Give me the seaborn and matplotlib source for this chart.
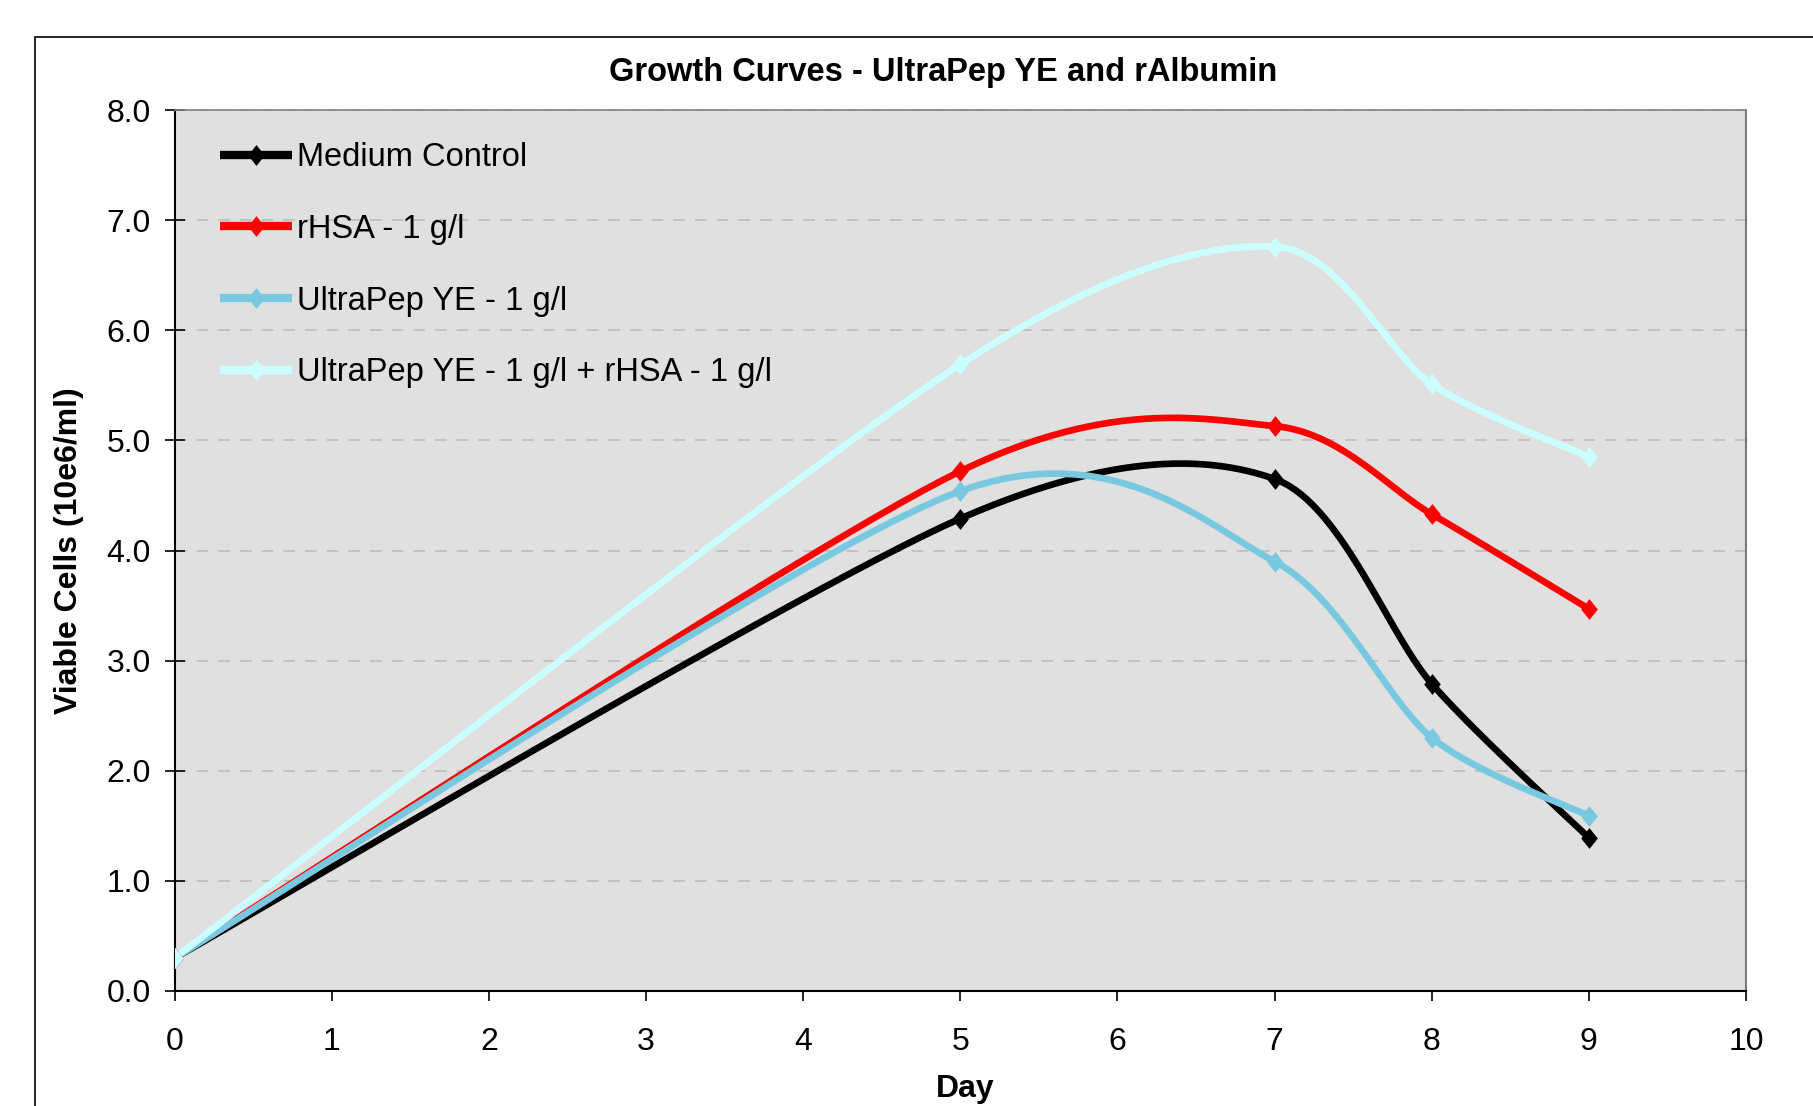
import numpy as np
import pandas as pd
import matplotlib
matplotlib.use("Agg")
import matplotlib.pyplot as plt
from matplotlib.lines import Line2D
from matplotlib.patches import Rectangle
import seaborn as sns

# ---- data ----
days = [0, 5, 7, 8, 9]
series_names = ["Medium Control", "rHSA - 1 g/l", "UltraPep YE - 1 g/l",
                "UltraPep YE - 1 g/l + rHSA - 1 g/l"]
medium_control = [0.30, 4.29, 4.65, 2.79, 1.39]
rhsa = [0.30, 4.72, 5.13, 4.33, 3.47]
ultrapep = [0.30, 4.54, 3.90, 2.30, 1.59]
ultrapep_rhsa = [0.30, 5.69, 6.76, 5.51, 4.85]
series_values = [medium_control, rhsa, ultrapep, ultrapep_rhsa]
series_colors = ["#000000", "#FF0000", "#78C8E0", "#CCFFFF"]
title = "Growth Curves - UltraPep YE and rAlbumin"
x_label = "Day"
y_label = "Viable Cells (10e6/ml)"
x_ticks = list(range(0, 11))
y_ticks = [0, 1, 2, 3, 4, 5, 6, 7, 8]

TENSION = 0.14


def smooth_curve(xs, ys, n=30):
    """Excel-style smoothed line (cardinal Bezier) through the points."""
    P = np.column_stack([xs, ys]).astype(float)
    out = [P[0]]
    for i in range(len(P) - 1):
        p0 = P[i - 1] if i > 0 else P[i]
        p1 = P[i]
        p2 = P[i + 1]
        p3 = P[i + 2] if i + 2 < len(P) else P[i + 1]
        c1 = p1 + (p2 - p0) * TENSION
        c2 = p2 - (p3 - p1) * TENSION
        t = np.linspace(0, 1, n)[1:, None]
        seg = ((1 - t) ** 3) * p1 + 3 * ((1 - t) ** 2) * t * c1 \
            + 3 * (1 - t) * t ** 2 * c2 + t ** 3 * p2
        out.extend(seg)
    out = np.array(out)
    return out[:, 0], out[:, 1]


sns.set_style("white")
plt.rcParams["font.family"] = ["Liberation Sans", "DejaVu Sans"]
plt.rcParams["text.color"] = "black"
plt.rcParams["axes.labelcolor"] = "black"

W, H = 1813, 1106
fig = plt.figure(figsize=(W / 100, H / 100), dpi=100)
ax = fig.add_axes([174.6 / W, 1 - 991 / H, (1746 - 174.6) / W, (991 - 110) / H])
ax.set_facecolor("#E0E0E0")

# outer chart frame (cut off at right and bottom)
fig.patches.append(Rectangle((35 / W, -0.2), 1.2, 1.2 - 37 / H,
                             transform=fig.transFigure, fill=False,
                             edgecolor="#000000", linewidth=1.2, zorder=0))

diamond = [(0, 1), (0.8, 0), (0, -1), (-0.8, 0), (0, 1)]
lw = 4.8
handles = []
for name, vals, col in zip(series_names, series_values, series_colors):
    sx, sy = smooth_curve(days, vals)
    sns.lineplot(x=sx, y=sy, ax=ax, color=col, linewidth=lw, sort=False,
                 estimator=None, legend=False, zorder=3,
                 solid_capstyle="butt", solid_joinstyle="round")
    sns.scatterplot(x=days, y=vals, ax=ax, color=col, marker=diamond, s=15 ** 2,
                    edgecolor=col, linewidth=0, legend=False, zorder=4)
    handles.append(Line2D([], [], color=col, linewidth=6, marker=diamond,
                          markersize=15, markeredgewidth=0, label=name,
                          solid_capstyle="butt"))

ax.set_xlim(0, 10)
ax.set_ylim(0, 8)
ax.set_xticks(x_ticks)
ax.set_xticklabels([str(v) for v in x_ticks])
ax.set_yticks(y_ticks)
ax.set_yticklabels([f"{v:.1f}" for v in y_ticks])

ax.yaxis.grid(True, color="#BDBDBD", linestyle=(0, (7, 6)), linewidth=1.2)
ax.xaxis.grid(False)
ax.set_axisbelow(True)

for side in ["left", "bottom"]:
    ax.spines[side].set_color("#000000")
    ax.spines[side].set_linewidth(1.5)
ax.spines["right"].set_color("#606060")
ax.spines["right"].set_linewidth(1.2)
ax.spines["top"].set_color("#808080")
ax.spines["top"].set_linewidth(1.2)

ax.tick_params(axis="y", direction="inout", length=14, width=1.2,
               labelsize=23, pad=10, left=True, colors="#000000")
ax.tick_params(axis="x", direction="out", length=7, width=1.2,
               labelsize=23, pad=19, bottom=True, colors="#000000")

ax.set_xlabel(x_label, fontsize=23, fontweight="bold")
ax.set_ylabel(y_label, fontsize=23, fontweight="bold")
ax.xaxis.set_label_coords(0.5 + (965 - 960.3) / 1571.4, -(1089 - 991) / 881)
ax.xaxis.label.set_va("center")
ax.yaxis.set_label_coords(-(174.6 - 69) / 1571.4, 0.5)
ax.yaxis.label.set_va("center")

fig.text(943 / W, 1 - 72 / H, title, ha="center", va="center",
         fontsize=23.5, fontweight="bold", color="black")

leg = ax.legend(handles=handles, loc="upper left",
                bbox_to_anchor=((220 - 174.6) / 1571.4, 1 - 32 / 881),
                frameon=False, fontsize=23.5, handlelength=2.2,
                handletextpad=0.17, labelspacing=1.25, borderpad=0,
                borderaxespad=0)
for txt in leg.get_texts():
    txt.set_color("black")

fig.savefig("out.png", dpi=100)
